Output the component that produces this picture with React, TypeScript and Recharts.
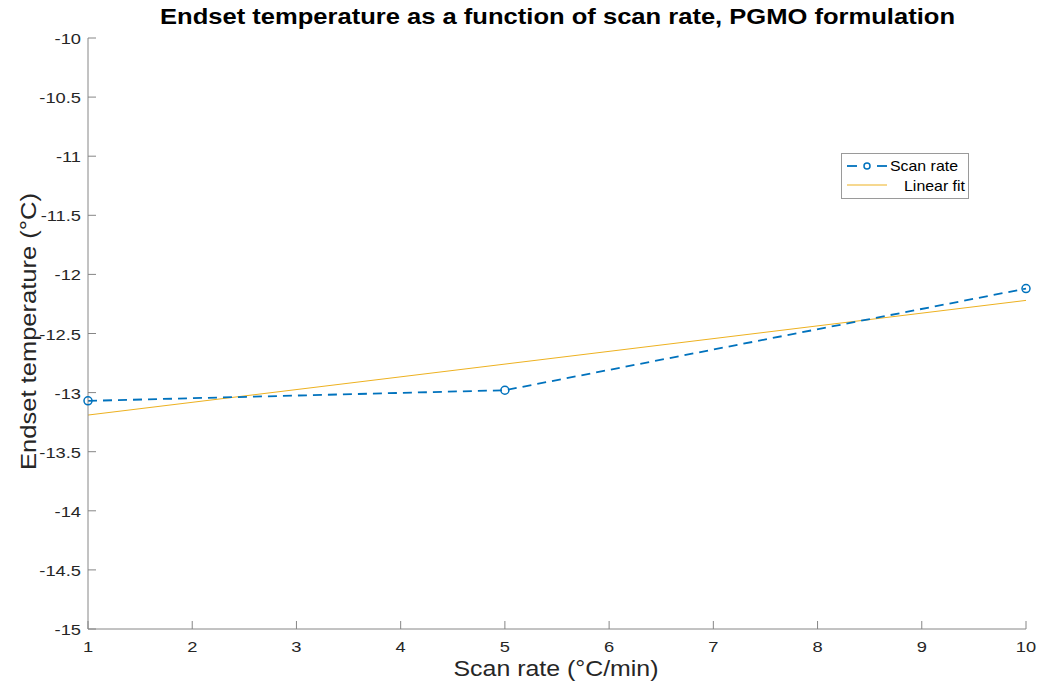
import React from 'react';
import { LineChart, Line, XAxis, YAxis, Customized } from 'recharts';

// Measured endset temperatures per scan rate
const scanRates = [1, 5, 10];
const endsetTemps = [-13.07, -12.98, -12.12];
// Linear fit evaluated at the end points of the scan-rate range
const fitRates = [1, 10];
const fitTemps = [-13.19, -12.22];

const xTicks = [1, 2, 3, 4, 5, 6, 7, 8, 9, 10];
const yTicks = [-15, -14.5, -14, -13.5, -13, -12.5, -12, -11.5, -11, -10.5, -10];

const BLUE = '#0072BD';
const YELLOW = '#EDB120';
const AXIS = '#868686';
const TEXT = '#262626';
const FONT = '"Liberation Sans", Arial, Helvetica, sans-serif';
const TICK_FONT = 15.5;
// horizontal glyph stretch used for all text
const STRETCH = 1.18;

const data = xTicks
  .filter((r) => scanRates.includes(r) || fitRates.includes(r))
  .map((r) => {
    const i = scanRates.indexOf(r);
    const j = fitRates.indexOf(r);
    return {
      rate: r,
      temp: i >= 0 ? endsetTemps[i] : null,
      fit: j >= 0 ? fitTemps[j] : null,
    };
  });

const YTick = (props: any) => {
  const { x, y, payload } = props;
  return (
    <g>
      <line x1={x} y1={y} x2={x + 8} y2={y} stroke={AXIS} strokeWidth={1} />
      <text
        transform={`translate(${x - 7},${y + 6}) scale(${STRETCH},1)`}
        textAnchor="end"
        fill={TEXT}
        fontSize={TICK_FONT}
        fontFamily={FONT}
      >
        {payload.value}
      </text>
    </g>
  );
};

const XTick = (props: any) => {
  const { x, y, payload } = props;
  return (
    <g>
      <line x1={x} y1={y} x2={x} y2={y - 8} stroke={AXIS} strokeWidth={1} />
      <text
        transform={`translate(${x},${y + 23}) scale(${STRETCH},1)`}
        textAnchor="middle"
        fill={TEXT}
        fontSize={TICK_FONT}
        fontFamily={FONT}
      >
        {payload.value}
      </text>
    </g>
  );
};

const CircleDot = (props: any) => {
  const { cx, cy, index } = props;
  if (cx == null || cy == null || props.value == null) return <g key={`d${index}`} />;
  return <circle key={`d${index}`} cx={cx} cy={cy} r={4} stroke={BLUE} strokeWidth={1.5} fill="none" />;
};

const Annotations = () => (
  <g fontFamily={FONT}>
    <text
      x={557.5}
      y={24}
      textAnchor="middle"
      fontSize={22}
      fontWeight="bold"
      fill="#000"
      textLength={795}
      lengthAdjust="spacingAndGlyphs"
    >
      Endset temperature as a function of scan rate, PGMO formulation
    </text>
    <text
      x={556}
      y={676}
      textAnchor="middle"
      fontSize={22}
      fill={TEXT}
      textLength={205}
      lengthAdjust="spacingAndGlyphs"
    >
      Scan rate (°C/min)
    </text>
    <text
      x={0}
      y={0}
      transform="translate(36,331.5) rotate(-90)"
      textAnchor="middle"
      fontSize={21.5}
      fill={TEXT}
      textLength={277}
      lengthAdjust="spacingAndGlyphs"
    >
      Endset temperature (°C)
    </text>
    {/* legend */}
    <rect x={841.5} y={153.5} width={127} height={45} fill="#fff" stroke="#9a9a9a" strokeWidth={1} />
    <line x1={847} y1={166} x2={857} y2={166} stroke={BLUE} strokeWidth={1.8} />
    <line x1={877} y1={166} x2={887} y2={166} stroke={BLUE} strokeWidth={1.8} />
    <circle cx={867} cy={166} r={3} stroke={BLUE} strokeWidth={1.5} fill="#fff" />
    <text x={890} y={171} fontSize={14.4} fill="#000" textLength={68} lengthAdjust="spacingAndGlyphs">
      Scan rate
    </text>
    <line x1={847} y1={185} x2={887} y2={185} stroke={YELLOW} strokeWidth={1} />
    <text x={904} y={191} fontSize={14.4} fill="#000" textLength={61} lengthAdjust="spacingAndGlyphs">
      Linear fit
    </text>
  </g>
);

export default function App() {
  return (
    <div style={{ position: 'absolute', left: 0, top: 0, background: '#fff' }}>
      <LineChart width={1039} height={693} data={data} margin={{ top: 38, right: 13, bottom: 0, left: 0 }}>
        <XAxis
          dataKey="rate"
          type="number"
          domain={[1, 10]}
          ticks={xTicks}
          height={64}
          tickSize={0}
          tickMargin={0}
          tickLine={false}
          axisLine={{ stroke: AXIS, strokeWidth: 1 }}
          tick={<XTick />}
          interval={0}
        />
        <YAxis
          type="number"
          domain={[-15, -10]}
          ticks={yTicks}
          width={88}
          tickSize={0}
          tickMargin={0}
          tickLine={false}
          axisLine={{ stroke: AXIS, strokeWidth: 1 }}
          tick={<YTick />}
          interval={0}
        />
        <Line
          dataKey="fit"
          stroke={YELLOW}
          strokeWidth={1}
          dot={false}
          activeDot={false}
          connectNulls
          isAnimationActive={false}
        />
        <Line
          dataKey="temp"
          stroke={BLUE}
          strokeWidth={1.8}
          strokeDasharray="9 6"
          dot={<CircleDot />}
          activeDot={false}
          connectNulls
          isAnimationActive={false}
        />
        <Customized component={Annotations} />
      </LineChart>
    </div>
  );
}
